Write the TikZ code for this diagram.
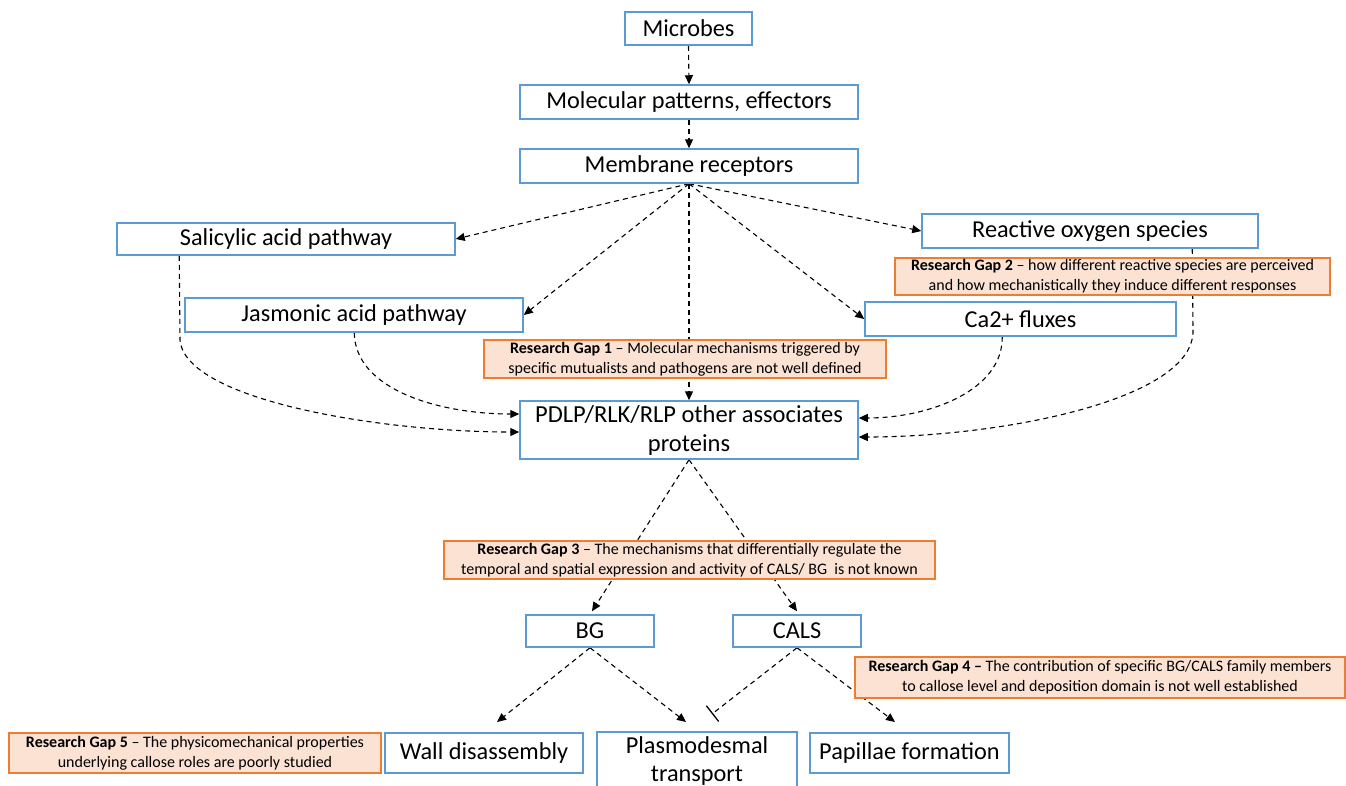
\documentclass[tikz,border=0pt]{standalone}
\usepackage{fontspec}
\setmainfont{Carlito}
\usetikzlibrary{arrows.meta,backgrounds}
\definecolor{bxblue}{HTML}{5B9BD5}
\definecolor{gaporange}{HTML}{ED7D31}
\definecolor{gapfill}{HTML}{FBE2D3}
\begin{document}
\begin{tikzpicture}[x=1pt,y=-1pt,
 bx/.style={draw=bxblue,line width=1.5pt,fill=white,inner sep=0pt,font=\fontsize{24.3}{28}\selectfont,align=center},
 gap/.style={draw=gaporange,line width=1.5pt,fill=gapfill,inner sep=0pt,font=\fontsize{16}{20}\selectfont,align=center},
 conn/.style={line width=1.1pt,dash pattern=on 5pt off 4pt,-{Triangle[length=9pt,width=8pt]}},
 inhib/.style={line width=1.1pt,dash pattern=on 5pt off 4pt,-{Bar[width=20pt,line width=1.3pt]}}
]
\useasboundingbox (0,0) rectangle (1346,785);
% blue boxes
\node[bx,minimum width=127pt,minimum height=33pt] (mic) at (688.5,28.5) {Microbes};
\node[bx,minimum width=338pt,minimum height=34pt] (mol) at (689,102) {Molecular patterns, effectors};
\node[bx,minimum width=338pt,minimum height=34pt] (mem) at (689,166) {Membrane receptors};
\node[bx,minimum width=338pt,minimum height=32pt] (sal) at (286,239) {Salicylic acid pathway};
\node[bx,minimum width=338pt,minimum height=34pt] (jas) at (354,315) {Jasmonic acid pathway};
\node[bx,minimum width=336pt,minimum height=34pt] (ros) at (1090,231) {Reactive oxygen species};
\node[bx,minimum width=311pt,minimum height=34pt] (ca) at (1020.5,319) {Ca2+ fluxes};
\node[bx,minimum width=338pt,minimum height=58pt,font=\fontsize{24.5}{29}\selectfont] (pd) at (689,430) {PDLP/RLK/RLP other associates\\proteins};
\node[bx,minimum width=128pt,minimum height=32pt] (bg) at (590,631) {BG};
\node[bx,minimum width=128pt,minimum height=32pt] (cals) at (797,631) {CALS};
\node[bx,minimum width=198pt,minimum height=40pt] (wall) at (484,753) {Wall disassembly};
\node[bx,minimum width=200pt,minimum height=58pt] (plas) at (697,761) {Plasmodesmal\\transport};
\node[bx,minimum width=199pt,minimum height=40pt] (pap) at (909.5,753) {Papillae formation};
% research gaps
\node[gap,minimum width=402pt,minimum height=38pt] (g1) at (685,359) {\textbf{Research Gap 1} -- Molecular mechanisms triggered by\\specific mutualists and pathogens are not well defined};
\node[gap,minimum width=435pt,minimum height=37pt] (g2) at (1112.5,276.5) {\textbf{Research Gap 2} -- how different reactive species are perceived\\and how mechanistically they induce different responses};
\node[gap,minimum width=491pt,minimum height=38pt] (g3) at (689.5,560) {\textbf{Research Gap 3} -- The mechanisms that differentially regulate the\\temporal and spatial expression and activity of CALS/ BG\ \ is not known};
\node[gap,minimum width=490pt,minimum height=41pt] (g4) at (1100,677.5) {\textbf{Research Gap 4 --} The contribution of specific BG/CALS family members\\to callose level and deposition domain is not well established};
\node[gap,minimum width=372pt,minimum height=40pt] (g5) at (195,753) {\textbf{Research Gap 5} -- The physicomechanical properties\\underlying callose roles are poorly studied};
% free ends
\coordinate (wtip) at (497,722);
\coordinate (ptip) at (686,722);
\coordinate (btip) at (712,714);
\coordinate (ftip) at (895,722);
\begin{scope}[on background layer]
\draw[conn] (mic.south) -- (mol.north);
\draw[conn] (mol.south) -- (mem.north);
\draw[conn] (mem.south) -- (sal.east);
\draw[conn] (mem.south) -- (jas.east);
\draw[conn] (mem.south) -- (pd.north);
\draw[conn] (mem.south) -- (ca.west);
\draw[conn] (mem.south) -- (ros.west);
\draw[conn] ([xshift=63pt]sal.south west) -- (180,340) .. controls (185,400) and (380,432) .. ([yshift=-2pt]pd.west);
\draw[conn] ([xshift=170pt]jas.south west) .. controls (355,390) and (440,414) .. ([yshift=16pt]pd.west);
\draw[conn] ([xshift=138pt]ca.south west) .. controls (1003,390) and (930,418) .. ([yshift=12pt]pd.east);
\draw[conn] ([xshift=271pt]ros.south west) -- (1193,330) .. controls (1195,400) and (1000,437) .. ([yshift=-7pt]pd.east);
\draw[conn] (pd.south) -- ([xshift=2pt,yshift=3pt]bg.north);
\draw[conn] (pd.south) -- ([yshift=3pt]cals.north);
\draw[conn] (bg.south) -- (wtip);
\draw[conn] (bg.south) -- (ptip);
\draw[inhib] (cals.south) -- (btip);
\draw[conn] (cals.south) -- (ftip);
\end{scope}
\end{tikzpicture}
\end{document}
